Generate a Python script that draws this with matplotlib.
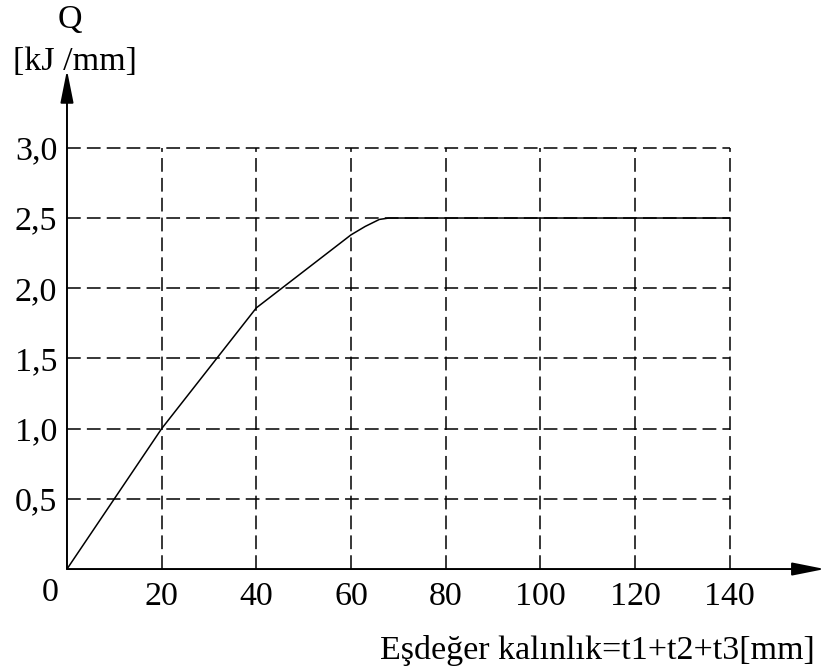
import matplotlib.pyplot as plt

# curve
thickness = [0, 20, 40, 60, 63, 66, 68, 140]
heat_input = [0.0, 1.0, 1.86, 2.38, 2.44, 2.49, 2.5, 2.5]

x_ticks = [20, 40, 60, 80, 100, 120, 140]
y_ticks = [0.5, 1.0, 1.5, 2.0, 2.5, 3.0]
y_labels = ["0,5", "1,0", "1,5", "2,0", "2,5", "3,0"]

plt.rcParams['font.family'] = ['Liberation Serif', 'DejaVu Serif']
fs = 24.5

fig = plt.figure(figsize=(8.26, 6.70), dpi=100)
ax = fig.add_axes([0.0811, 0.1507, 0.9189, 0.7544])
ax.set_xlim(0, 160.36)
ax.set_ylim(0, 3.6)
for s in ax.spines.values():
    s.set_visible(False)

# dashed grid, only inside the 0..140 x 0..3 box
dash = (0, (9, 4))
ax.vlines(x_ticks, 0, y_ticks[-1], colors='black', linestyles=dash, lw=1.1)
ax.hlines(y_ticks, 0, x_ticks[-1], colors='black', linestyles=dash, lw=1.1)

ax.plot(thickness, heat_input, color='black', lw=1.1)

# axes with arrow heads
arrow = dict(arrowstyle='-|>,head_length=2.0,head_width=0.4', lw=1.4,
             color='black', shrinkA=0, shrinkB=0)
ax.annotate('', xy=(160.1, 0), xytext=(0, 0), arrowprops=arrow,
            annotation_clip=False)
ax.annotate('', xy=(0, 3.554), xytext=(0, 0), arrowprops=arrow,
            annotation_clip=False)

ax.set_xticks(x_ticks)
ax.set_xticklabels([str(v) for v in x_ticks])
ax.set_yticks(y_ticks)
ax.set_yticklabels(y_labels)
ax.tick_params(length=0, labelsize=fs)
ax.tick_params(axis='x', pad=9)
ax.tick_params(axis='y', pad=7)

ax.annotate('0', xy=(0, 0), xytext=(-12, -17), textcoords='offset points',
            ha='center', va='center', fontsize=fs, annotation_clip=False)

fig.text(70 / 826, 1 - 20 / 670, 'Q', ha='center', va='center', fontsize=fs)
fig.text(75 / 826, 1 - 62 / 670, '[kJ /mm]', ha='center', va='center', fontsize=fs)
fig.text(815 / 826, 1 - 650 / 670, 'Eşdeğer kalınlık=t1+t2+t3[mm]',
         ha='right', va='center', fontsize=fs)

fig.savefig('out.png', dpi=100)
